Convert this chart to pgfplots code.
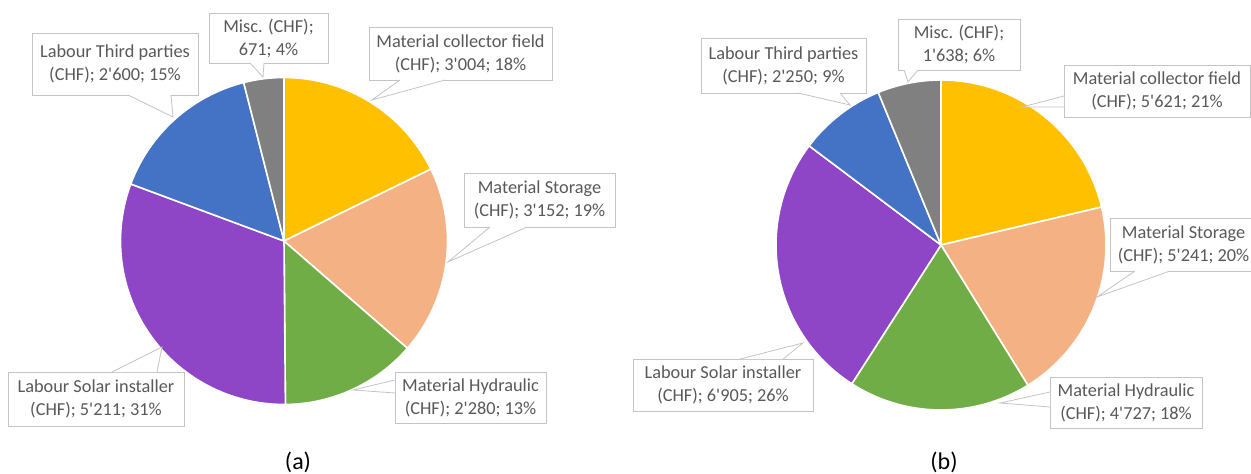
\documentclass[border=0pt]{standalone}
\usepackage{pgfplots}
\pgfplotsset{compat=1.18}
\usepackage{fontspec}
\setmainfont{Carlito}[Ligatures=TeXOff]
\definecolor{cYel}{HTML}{FFC000}
\definecolor{cSal}{HTML}{F4B183}
\definecolor{cGrn}{HTML}{70AD47}
\definecolor{cPur}{HTML}{8E45C6}
\definecolor{cBlu}{HTML}{4472C4}
\definecolor{cGry}{HTML}{808080}
\definecolor{boxgray}{HTML}{C4C4C4}
\definecolor{txtgray}{HTML}{595959}
\tikzset{lbl/.style={draw=boxgray, line width=0.8bp, fill=white, text=txtgray,
    align=center, inner sep=0pt, font=\fontsize{18.3bp}{23bp}\selectfont}}

\newcommand{\drawpie}[4]{%
  \gdef\pietotal{0}%
  \foreach \v/\c in {#4}{\pgfmathparse{\pietotal+\v/100}\xdef\pietotal{\pgfmathresult}}%
  \gdef\pieangle{90}%
  \foreach \v/\c in {#4}{%
    \pgfmathparse{\pieangle-\v/100/\pietotal*360}\let\pieend\pgfmathresult
    \edef\pietmp{\noexpand\filldraw[fill=\c, draw=white, line width=1.6bp, line join=round] (axis cs:#1,#2) -- ++(\pieangle:#3bp) arc[start angle=\pieangle, end angle=\pieend, radius=#3bp] -- cycle;}%
    \pietmp
    \xdef\pieangle{\pieend}%
  }%
}
\newcommand{\callout}[8]{%
  \node[lbl, minimum width=#3bp, minimum height=#4bp] at (axis cs:#1,#2) {#8};
  \fill[white] (axis cs:#5) -- (axis cs:#6) -- (axis cs:#7) -- cycle;
  \draw[boxgray, line width=0.8bp] (axis cs:#5) -- (axis cs:#6) -- (axis cs:#7);
}

\begin{document}
\begin{tikzpicture}
\begin{axis}[scale only axis, width=1251bp, height=474bp,
  xmin=0, xmax=1251, ymin=0, ymax=474, y dir=reverse,
  hide axis, clip=false]

% ---- (a) ----
\drawpie{284}{241}{163.5}{3004/cYel,3152/cSal,2280/cGrn,5211/cPur,2600/cBlu,671/cGry}
\callout{268.5}{38}{119}{50}{250,63}{263,77}{264,63}{Misc. (CHF);\\671; 4\%}
\callout{115}{64}{166}{62}{128,95}{173,117}{171,95}{Labour Third parties\\(CHF); 2'600; 15\%}
\callout{460.5}{53.5}{183}{53}{400,80}{372,100}{445,80}{Material collector field\\(CHF); 3'004; 18\%}
\callout{539.5}{200}{151}{54}{490,227}{448,262}{527,227}{Material Storage\\(CHF); 3'152; 19\%}
\callout{470.5}{397.5}{151}{51}{395,380}{353,390}{395,393}{Material Hydraulic\\(CHF); 2'280; 13\%}
\callout{96}{399}{176}{54}{112,372}{162,347}{157,372}{Labour Solar installer\\(CHF); 5'211; 31\%}
\node[font=\fontsize{24bp}{28bp}\selectfont] at (axis cs:298,462) {(a)};

% ---- (b) ----
\drawpie{941}{245}{165}{5621/cYel,5241/cSal,4727/cGrn,6905/cPur,2250/cBlu,1638/cGry}
\callout{783.5}{65.5}{165}{55}{798,93}{850,105}{840,93}{Labour Third parties\\(CHF); 2'250; 9\%}
\callout{959}{44.5}{122}{51}{904,70}{908,82}{918,70}{Misc. (CHF);\\1'638; 6\%}
\callout{1157}{91}{186}{52}{1064,96}{1022,107}{1064,107}{Material collector field\\(CHF); 5'621; 21\%}
\callout{1183.5}{244.5}{147}{53}{1135,271}{1097,297}{1170,271}{Material Storage\\(CHF); 5'241; 20\%}
\callout{1126}{402.5}{152}{51}{1050,392}{1000,403}{1050,407}{Material Hydraulic\\(CHF); 4'727; 18\%}
\callout{723}{385}{180}{52}{740,359}{803,343}{783,359}{Labour Solar installer\\(CHF); 6'905; 26\%}
\node[font=\fontsize{24bp}{28bp}\selectfont] at (axis cs:944,462) {(b)};
\end{axis}
\pgfresetboundingbox
\useasboundingbox (0,0) rectangle (1251bp,474bp);
\end{tikzpicture}
\end{document}
